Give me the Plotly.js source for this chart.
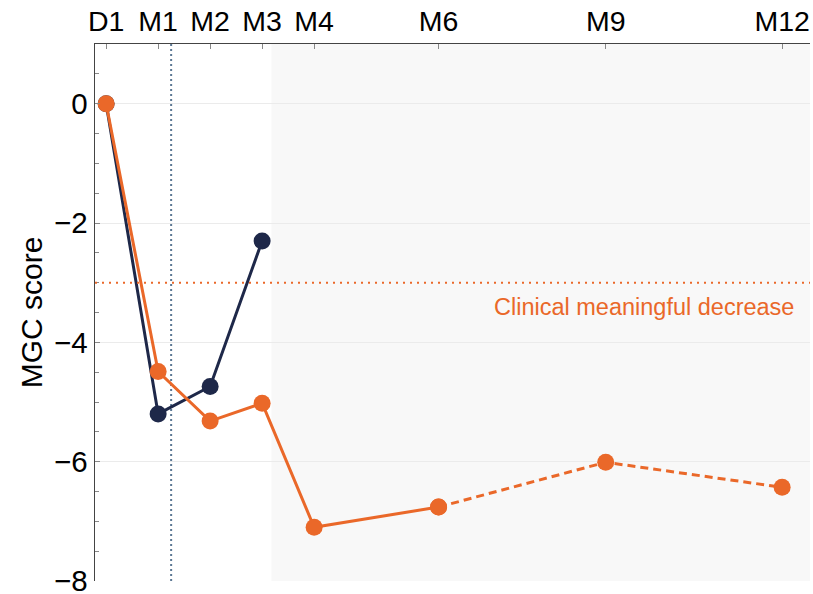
<!DOCTYPE html>
<html>
<head>
<meta charset="utf-8">
<script src="https://cdn.plot.ly/plotly-3.0.1.min.js"></script>
<style>
  html, body { margin: 0; padding: 0; background: #ffffff; }
  #chart { width: 813px; height: 594px; }
</style>
</head>
<body>
<div id="chart"></div>
<script>
// Visit schedule (study day of each visit) and its labels
const visitLabels = ['D1', 'M1', 'M2', 'M3', 'M4', 'M6', 'M9', 'M12'];
const visitDays = [1, 29, 57, 85, 113, 180, 270, 365];

// Mean change in MGC score per visit
const navyScores = [0, -5.20, -4.74, -2.30];
const orangeScores = [0, -4.49, -5.32, -5.02, -7.10, -6.76, -6.01, -6.43];

// Y-axis tick values
const scoreTicks = [-8, -6, -4, -2, 0];

// Reference levels
const meaningfulDecrease = -3;
const markerDay = 36;          // dotted vertical reference
const extensionStartDay = 90;  // start of shaded follow-up period
const thresholdLabel = 'Clinical meaningful decrease';

// Index where the orange series switches from solid to dashed
const dashedFrom = 5;

const ORANGE = '#EA6829';
const NAVY = '#1E2849';
const FONT = 'Liberation Sans, Arial, sans-serif';

const navyTrace = {
  x: visitDays.slice(0, navyScores.length),
  y: navyScores,
  mode: 'lines+markers',
  line: { color: NAVY, width: 3 },
  marker: { color: NAVY, size: 17 },
  hoverinfo: 'skip',
  showlegend: false
};

const orangeSolid = {
  x: visitDays.slice(0, dashedFrom + 1),
  y: orangeScores.slice(0, dashedFrom + 1),
  mode: 'lines+markers',
  line: { color: ORANGE, width: 3 },
  marker: { color: ORANGE, size: 17 },
  hoverinfo: 'skip',
  showlegend: false
};

const orangeDashed = {
  x: visitDays.slice(dashedFrom),
  y: orangeScores.slice(dashedFrom),
  mode: 'lines+markers',
  line: { color: ORANGE, width: 3, dash: '8px,5px' },
  marker: { color: ORANGE, size: 17 },
  hoverinfo: 'skip',
  showlegend: false
};

const layout = {
  width: 813,
  height: 594,
  margin: { l: 95, r: 3, t: 44, b: 13 },
  paper_bgcolor: '#ffffff',
  plot_bgcolor: '#ffffff',
  font: { family: FONT, color: '#000000' },
  showlegend: false,
  xaxis: {
    side: 'top',
    range: [-5, 380],
    tickmode: 'array',
    tickvals: visitDays,
    ticktext: visitLabels,
    tickfont: { size: 28.5, family: FONT, color: '#000000' },
    ticks: 'inside',
    ticklen: 5,
    tickwidth: 1,
    tickcolor: '#888888',
    showgrid: false,
    zeroline: false,
    showline: true,
    linecolor: '#444444',
    linewidth: 1.5,
    fixedrange: true
  },
  yaxis: {
    range: [-8, 1],
    tickmode: 'array',
    tickvals: scoreTicks,
    tickfont: { size: 29.5, family: FONT, color: '#000000' },
    ticklabeloverflow: 'allow',
    ticks: 'inside',
    ticklen: 5,
    tickwidth: 1,
    tickcolor: '#888888',
    minor: { dtick: 0.5, tick0: 0, ticks: 'inside', ticklen: 4, tickcolor: '#888888', showgrid: false },
    showgrid: true,
    gridcolor: '#ebebeb',
    gridwidth: 1,
    zeroline: false,
    showline: true,
    linecolor: '#444444',
    linewidth: 1.5,
    title: { text: 'MGC score', font: { size: 30, family: FONT, color: '#000000' }, standoff: 2 },
    fixedrange: true
  },
  shapes: [
    {
      type: 'rect', layer: 'below',
      xref: 'x', yref: 'paper',
      x0: extensionStartDay, x1: 380, y0: 0, y1: 1,
      fillcolor: '#f8f8f8', line: { width: 0 }
    },
    {
      type: 'line', layer: 'above',
      xref: 'paper', yref: 'y',
      x0: 0, x1: 1, y0: meaningfulDecrease, y1: meaningfulDecrease,
      line: { color: ORANGE, width: 2, dash: '2px,5px' }
    },
    {
      type: 'line', layer: 'below',
      xref: 'x', yref: 'paper',
      x0: markerDay, x1: markerDay, y0: 0, y1: 1,
      line: { color: '#5B7793', width: 2, dash: '2px,3px' }
    }
  ],
  annotations: [
    {
      text: thresholdLabel,
      xref: 'paper', yref: 'y',
      x: 0.98, y: meaningfulDecrease,
      xanchor: 'right', yanchor: 'top',
      yshift: -9,
      showarrow: false,
      font: { size: 23.5, family: FONT, color: ORANGE }
    }
  ]
};

Plotly.newPlot('chart', [navyTrace, orangeSolid, orangeDashed], layout, {
  displayModeBar: false,
  staticPlot: true
});
</script>
</body>
</html>
